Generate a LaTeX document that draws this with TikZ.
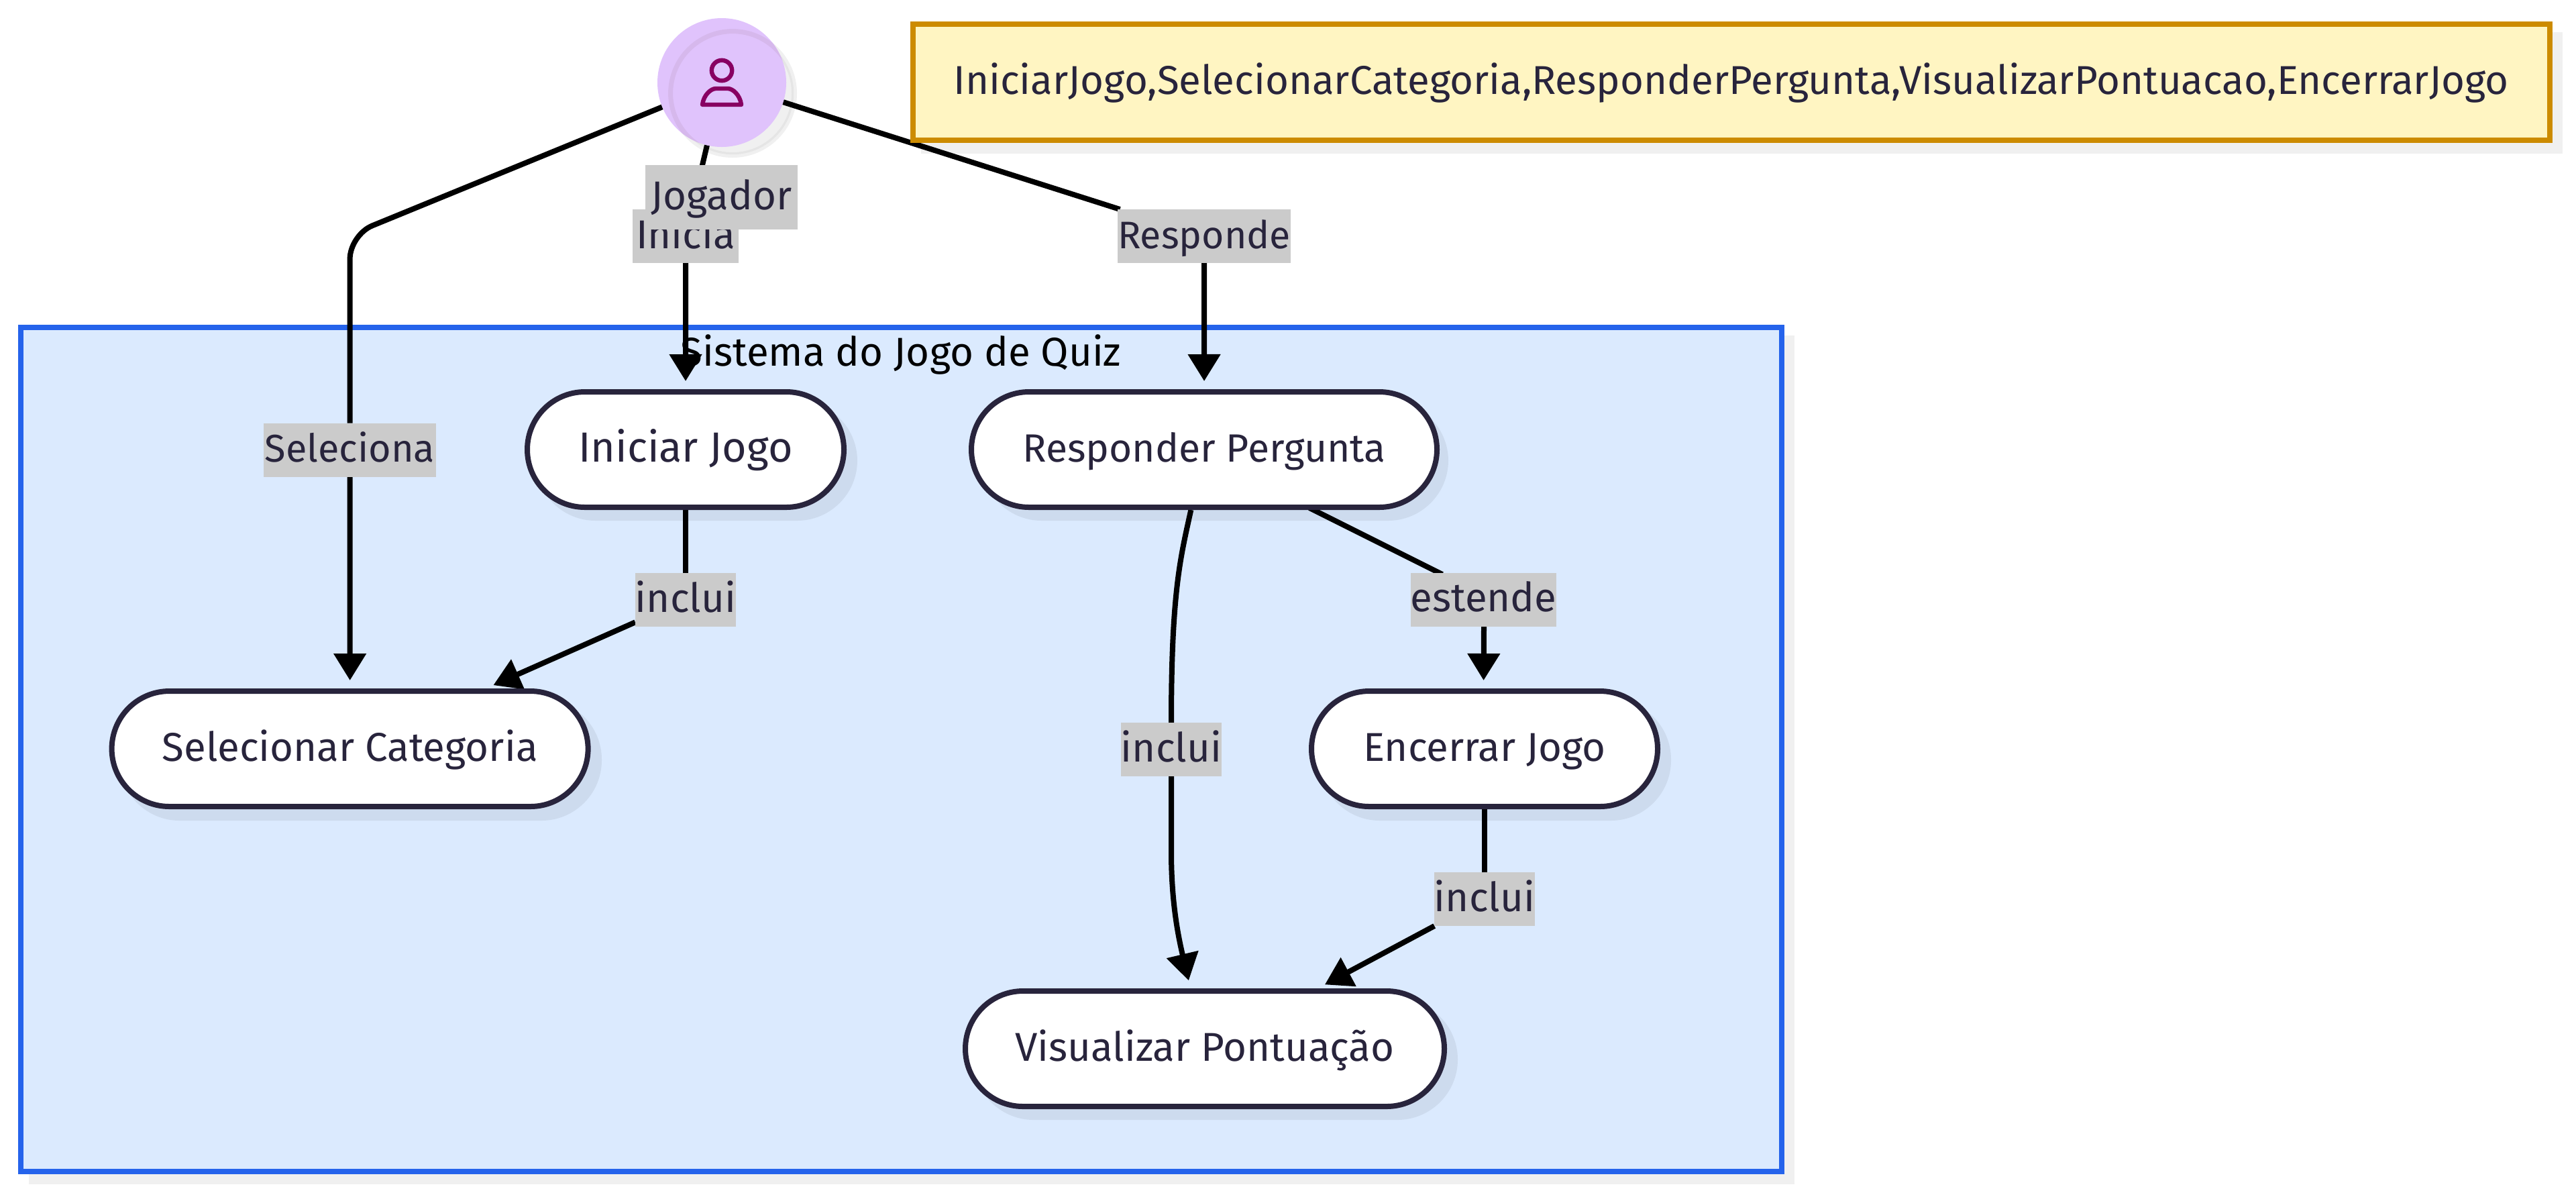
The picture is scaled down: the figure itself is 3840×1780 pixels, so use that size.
\documentclass[tikz,border=0pt]{standalone}
\usepackage{fontspec}
\setmainfont{Fira Sans}
\usetikzlibrary{arrows.meta,shapes.misc}
\definecolor{inktext}{HTML}{28243C}
\definecolor{sysfill}{HTML}{DBEAFE}
\definecolor{sysline}{HTML}{2563EB}
\definecolor{softshadow}{HTML}{F0F0F0}
\definecolor{nodeshadow}{HTML}{CDDBEE}
\definecolor{labelgrey}{HTML}{CBCBCB}
\definecolor{notefill}{HTML}{FFF5C2}
\definecolor{noteline}{HTML}{CC8B00}
\definecolor{actorfill}{HTML}{E0C3FC}
\definecolor{actorring}{HTML}{D6B8EC}
\definecolor{iconcol}{HTML}{880062}
\pgfdeclarelayer{bgl}
\pgfdeclarelayer{edgel}
\pgfsetlayers{bgl,edgel,main}
\tikzset{
  usecase/.style={rounded rectangle,draw=inktext,line width=2pt,fill=white,
    text=inktext,minimum height=43pt,inner sep=0pt,text height=11pt,text depth=2pt,
    font=\fontsize{15}{17}\selectfont},
  edgelabel/.style={rectangle,fill=labelgrey,text=inktext,inner sep=0pt,outer sep=0pt,
    minimum height=20pt,text height=11pt,text depth=2pt,font=\fontsize{15}{17}\selectfont},
  edgeline/.style={draw=black,line width=2pt},
  arrowline/.style={edgeline,-{Triangle[length=10pt,width=11.75pt]},shorten >=3pt},
  softshade/.style={fill=softshadow},
  caseshade/.style={fill=nodeshadow,rounded corners=22.5pt},
}
\begin{document}
\begin{tikzpicture}[x=.25pt,y=-.25pt]
\useasboundingbox (0,0) rectangle (3840,1780);
% backgrounds
\begin{pgfonlayer}{bgl}
  \fill[softshade] (43,500) rectangle (2675,1765);
  \draw[draw=sysline,fill=sysfill,line width=2pt] (31,488) rectangle (2656,1746);
  \fill[softshade] (1373,48) rectangle (3820,229);
  \fill[softshade] (1092,139) circle [radius=24pt];
  \draw[draw=black!10,line width=.8pt] (1092,139) circle [radius=22.4pt];
  \fill[caseshade] (798,597) rectangle (1278,776);
  \fill[caseshade] (1463,597) rectangle (2159,776);
  \fill[caseshade] (178,1042) rectangle (897,1223);
  \fill[caseshade] (1967,1042) rectangle (2491,1223);
  \fill[caseshade] (1451,1489) rectangle (2173,1669);
\end{pgfonlayer}
% title
\node[text=black,text height=11pt,text depth=2pt,font=\fontsize{15}{17}\selectfont] (systitle) at (1343,527) {Sistema do Jogo de Quiz};
% actor
\node[circle,fill=actorfill,minimum size=48pt,inner sep=0pt,outer sep=0pt] (actor) at (1076,123) {};
\begin{scope}
  \clip (1076,123) circle [radius=24pt];
  \draw[draw=actorring,line width=1.75pt] (1092,139) circle [radius=23.1pt];
\end{scope}
\draw[draw=iconcol,line width=1.6pt] (1076,105) circle [radius=3.8pt];
\draw[draw=iconcol,line width=1.6pt,line join=round,fill=none]
  (1047,156) -- (1105,156) .. controls (1103,141) and (1092,132) .. (1085,132)
  -- (1067,132) .. controls (1060,132) and (1049,141) .. (1047,156) -- cycle;
% use cases
\node[usecase,minimum width=118pt,font=\fontsize{15.7}{17}\selectfont] (iniciar) at (1022,670) {Iniciar Jogo};
\node[usecase,minimum width=173.5pt,font=\fontsize{14.7}{17}\selectfont] (responder) at (1795,670) {Responder Pergunta};
\node[usecase,minimum width=177.5pt] (selecionar) at (521.6,1116) {Selecionar Categoria};
\node[usecase,minimum width=129pt] (encerrar) at (2213,1116) {Encerrar Jogo};
\node[usecase,minimum width=178.5pt] (visualizar) at (1796,1563) {Visualizar Pontuação};
% note
\node[rectangle,draw=noteline,fill=notefill,line width=2pt,text=inktext,minimum width=610pt,minimum height=43.25pt,inner sep=0pt,text height=11pt,text depth=2pt,font=\fontsize{15}{17}\selectfont] (note) at (2580.5,122.5) {IniciarJogo,SelecionarCategoria,ResponderPergunta,VisualizarPontuacao,EncerrarJogo};
% edge labels
\node[edgelabel,minimum width=39.5pt] (lblinicia) at (1022,352) {Inicia};
\node[edgelabel,minimum width=56.75pt,minimum height=24pt] (lbljogador) at (1075.5,294) {Jogador};
\node[edgelabel,minimum width=63.5pt,font=\fontsize{14.3}{17}\selectfont] (lblresponde) at (1795,352) {Responde};
\node[edgelabel,minimum width=64.25pt,font=\fontsize{14.4}{17}\selectfont] (lblseleciona) at (521.6,670.5) {Seleciona};
\node[edgelabel,minimum width=37.25pt] (lblinclui) at (1022,894) {inclui};
\node[edgelabel,minimum width=53.75pt] (lblestende) at (2211.5,893.5) {estende};
\node[edgelabel,minimum width=37.25pt] (lblincluib) at (1746,1117) {inclui};
\node[edgelabel,minimum width=37.25pt] (lblincluic) at (2213,1340) {inclui};
% edges
\coordinate (selbend) at (521.6,350);
\coordinate (estout) at (1952,757);
\coordinate (estin) at (2150,856);
\begin{pgfonlayer}{edgel}
  \draw[edgeline,rounded corners=9pt] (actor) -- (selbend) -- (lblseleciona);
  \draw[arrowline] (lblseleciona) -- (selecionar);
  \draw[edgeline] (actor) -- (lblinicia);
  \draw[arrowline] (lblinicia) -- (iniciar);
  \draw[edgeline] (actor) -- (lblresponde);
  \draw[arrowline] (lblresponde) -- (responder);
  \draw[edgeline] (iniciar) -- (lblinclui);
  \draw[arrowline] (lblinclui) -- (selecionar);
  \draw[edgeline] (estout) -- (estin);
  \draw[arrowline] (lblestende.south) ++(0.5,0) -- (encerrar.north -| lblestende.south);
  \draw[edgeline] (responder) .. controls (1760,830) and (1746,880) .. (lblincluib);
  \draw[arrowline] (lblincluib) -- (1746,1270) .. controls (1746,1340) and (1755,1390) .. (visualizar);
  \draw[edgeline] (encerrar) -- (lblincluic);
  \draw[arrowline] (lblincluic) -- (visualizar);
\end{pgfonlayer}
\end{tikzpicture}
\end{document}
